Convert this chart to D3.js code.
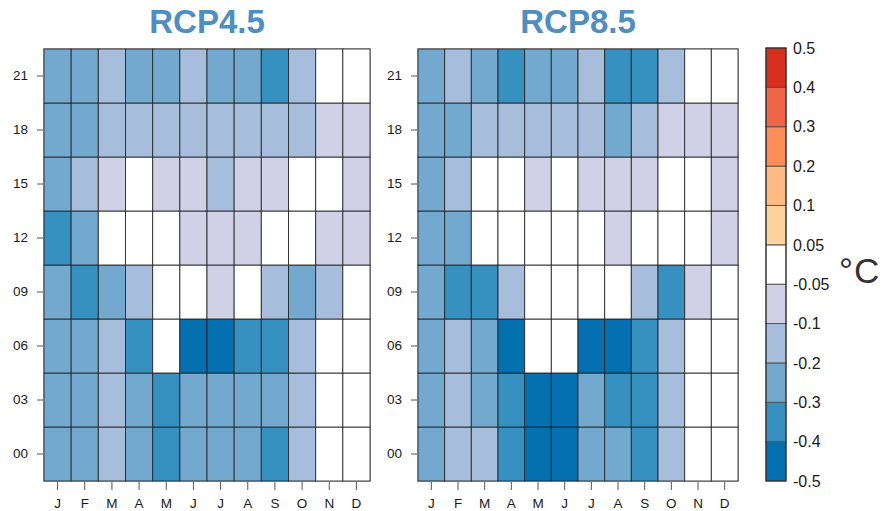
<!DOCTYPE html>
<html>
<head>
<meta charset="utf-8">
<script src="https://cdn.jsdelivr.net/npm/d3@7"></script>
<style>
  html, body { margin: 0; padding: 0; background: #fff; }
  svg { display: block; font-family: "Liberation Sans", Arial, Helvetica, sans-serif; }
</style>
</head>
<body>
<svg id="chart" width="882" height="511"></svg>
<script>
// Month and hour categories
const months = ["J", "F", "M", "A", "M", "J", "J", "A", "S", "O", "N", "D"];
const hours = ["00", "03", "06", "09", "12", "15", "18", "21"];

// Temperature change (°C) by hour (rows, 00 -> 21) and month (columns, J -> D)
const rcp45 = [
  [-0.25, -0.25, -0.15, -0.25, -0.35, -0.25, -0.25, -0.25, -0.35, -0.15, 0.00, 0.00], // 00
  [-0.25, -0.25, -0.15, -0.25, -0.35, -0.25, -0.25, -0.25, -0.25, -0.15, 0.00, 0.00], // 03
  [-0.25, -0.25, -0.15, -0.35, 0.00, -0.45, -0.45, -0.35, -0.35, -0.15, 0.00, 0.00],  // 06
  [-0.25, -0.35, -0.25, -0.15, 0.00, 0.00, -0.08, 0.00, -0.15, -0.25, -0.15, 0.00],   // 09
  [-0.35, -0.25, 0.00, 0.00, 0.00, -0.08, -0.08, -0.08, 0.00, 0.00, -0.08, -0.08],    // 12
  [-0.25, -0.15, -0.08, 0.00, -0.08, -0.08, -0.15, -0.08, -0.08, 0.00, 0.00, -0.08],  // 15
  [-0.25, -0.25, -0.15, -0.15, -0.15, -0.15, -0.15, -0.15, -0.15, -0.15, -0.08, -0.08], // 18
  [-0.25, -0.25, -0.15, -0.25, -0.25, -0.15, -0.25, -0.25, -0.35, -0.15, 0.00, 0.00]  // 21
];
const rcp85 = [
  [-0.25, -0.15, -0.15, -0.35, -0.45, -0.45, -0.25, -0.25, -0.35, -0.15, 0.00, 0.00], // 00
  [-0.25, -0.15, -0.25, -0.35, -0.45, -0.45, -0.25, -0.35, -0.35, -0.15, 0.00, 0.00], // 03
  [-0.25, -0.15, -0.25, -0.45, 0.00, 0.00, -0.45, -0.45, -0.35, -0.15, 0.00, 0.00],   // 06
  [-0.25, -0.35, -0.35, -0.15, 0.00, 0.00, 0.00, 0.00, -0.15, -0.35, -0.08, 0.00],    // 09
  [-0.25, -0.25, 0.00, 0.00, 0.00, 0.00, 0.00, -0.08, 0.00, 0.00, 0.00, -0.08],       // 12
  [-0.25, -0.15, 0.00, 0.00, -0.08, 0.00, -0.08, -0.08, -0.08, 0.00, 0.00, -0.08],    // 15
  [-0.25, -0.25, -0.15, -0.15, -0.15, -0.15, -0.15, -0.25, -0.15, -0.08, -0.08, -0.08], // 18
  [-0.25, -0.15, -0.25, -0.35, -0.25, -0.25, -0.15, -0.35, -0.35, -0.15, 0.00, 0.00]  // 21
];

// Colour key: class breaks and labels
const breaks = [-0.4, -0.3, -0.2, -0.1, -0.05, 0.05, 0.1, 0.2, 0.3, 0.4];
const binColors = ["#0570b0", "#3690c0", "#74a9cf", "#a6bddb", "#d0d1e6", "#ffffff",
                   "#fdd49e", "#fdbb84", "#fc8d59", "#ef6548", "#d7301f"];
const keyLabels = ["-0.5", "-0.4", "-0.3", "-0.2", "-0.1", "-0.05", "0.05", "0.1", "0.2", "0.3", "0.4", "0.5"];

const panels = [
  { title: "RCP4.5", data: rcp45, x0: 44, x1: 370, y0: 49, y1: 481 },
  { title: "RCP8.5", data: rcp85, x0: 418, x1: 738, y0: 49, y1: 481 }
];

const color = d3.scaleThreshold().domain(breaks).range(binColors);
const svg = d3.select("#chart");

panels.forEach(p => {
  const x = d3.scaleBand().domain(d3.range(months.length)).range([p.x0, p.x1]);
  const y = d3.scaleBand().domain(hours).range([p.y1, p.y0]);
  const g = svg.append("g");

  const cells = [];
  p.data.forEach((row, i) => row.forEach((v, j) => cells.push({ h: hours[i], m: j, v })));

  g.append("rect")
    .attr("x", p.x0).attr("y", p.y0)
    .attr("width", p.x1 - p.x0).attr("height", p.y1 - p.y0)
    .attr("fill", "none").attr("stroke", "#999").attr("stroke-width", 1.5);

  g.selectAll("rect.cell").data(cells).join("rect")
    .attr("class", "cell")
    .attr("x", d => x(d.m)).attr("y", d => y(d.h))
    .attr("width", x.bandwidth()).attr("height", y.bandwidth())
    .attr("fill", d => color(d.v))
    .attr("stroke", "#222").attr("stroke-opacity", 0.85).attr("stroke-width", 1);

  // hour axis
  const yAxis = g.append("g").attr("transform", `translate(${p.x0 - 1},0)`)
    .call(d3.axisLeft(y).tickSize(6).tickSizeOuter(0).tickPadding(9));
  yAxis.select(".domain").remove();
  yAxis.selectAll("line").attr("stroke", "#555");
  yAxis.selectAll("text").attr("font-size", 13.5).attr("fill", "#1a1a1a");

  // month axis
  const xAxis = g.append("g").attr("transform", `translate(0,${p.y1 + 1})`)
    .call(d3.axisBottom(x).tickFormat(i => months[i]).tickSize(8).tickSizeOuter(0).tickPadding(8));
  xAxis.select(".domain").remove();
  xAxis.selectAll("line").attr("stroke", "#555");
  xAxis.selectAll("text").attr("font-size", 13.5).attr("fill", "#1a1a1a");

  svg.append("text")
    .attr("x", (p.x0 + p.x1) / 2).attr("y", 33)
    .attr("text-anchor", "middle")
    .attr("font-size", 33).attr("font-weight", "bold")
    .attr("fill", "#4f8ec1")
    .text(p.title);
});

// Colour bar
const keyX = 766, keyW = 20;
const ky = d3.scalePoint().domain(keyLabels).range([481, 48]);
const key = svg.append("g");
key.selectAll("rect").data(binColors).join("rect")
  .attr("x", keyX)
  .attr("y", (c, i) => ky(keyLabels[i + 1]))
  .attr("width", keyW)
  .attr("height", (c, i) => ky(keyLabels[i]) - ky(keyLabels[i + 1]))
  .attr("fill", c => c)
  .attr("stroke", "#555").attr("stroke-width", 1);
key.append("rect")
  .attr("x", keyX).attr("y", 48).attr("width", keyW).attr("height", 433)
  .attr("fill", "none").attr("stroke", "#222").attr("stroke-width", 1);
key.selectAll("text").data(keyLabels).join("text")
  .attr("x", 793).attr("y", d => ky(d))
  .attr("dy", "0.36em")
  .attr("font-size", 16).attr("fill", "#1a1a1a")
  .text(d => d);

// unit label
const unit = svg.append("text").attr("y", 283).attr("font-size", 35).attr("fill", "#333");
unit.append("tspan").attr("x", 839).text("°");
unit.append("tspan").attr("x", 854).text("C");
</script>
</body>
</html>
